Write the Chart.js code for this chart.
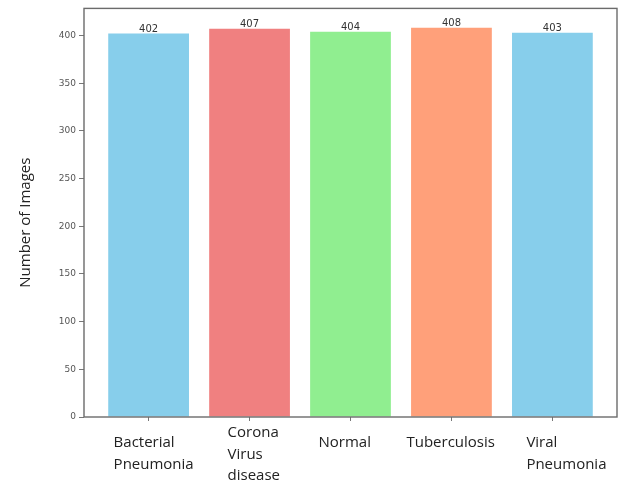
<!DOCTYPE html>
<html>
<head>
<meta charset="utf-8">
<script src="https://cdn.jsdelivr.net/npm/chart.js@4/dist/chart.umd.min.js"></script>
<style>
  html, body { margin: 0; padding: 0; background: #ffffff; }
  canvas { display: block; }
</style>
</head>
<body>
<canvas id="c" width="622" height="483"></canvas>
<script>
// Image counts per class
const categories = ['Bacterial Pneumonia', 'Corona Virus disease', 'Normal', 'Tuberculosis', 'Viral Pneumonia'];
const categoryLines = [['Bacterial', 'Pneumonia'], ['Corona', 'Virus', 'disease'], ['Normal'], ['Tuberculosis'], ['Viral', 'Pneumonia']];
const imageCounts = [402, 407, 404, 408, 403];
const barColors = ['#87CEEB', '#F08080', '#90EE90', '#FFA07A', '#87CEEB'];
const yTickStep = 50;
const yMax = 428.4;

// Category label placement relative to each tick (px)
const labelShiftX = [-35, -22, -32, -45, -26];
const labelShiftY = [0, -10, 0, 0, 0];

const labelFont = '15px "Open Sans", "Noto Sans", sans-serif';

const framePlugin = {
  id: 'frame',
  afterDatasetsDraw(chart) {
    const { ctx, chartArea: a } = chart;
    ctx.save();
    ctx.strokeStyle = '#6b6b6b';
    ctx.lineWidth = 1.4;
    ctx.strokeRect(a.left, a.top, a.right - a.left, a.bottom - a.top);
    ctx.restore();
  }
};

const valuePlugin = {
  id: 'values',
  afterDatasetsDraw(chart) {
    const { ctx } = chart;
    const meta = chart.getDatasetMeta(0);
    ctx.save();
    ctx.font = '10px "DejaVu Sans", sans-serif';
    ctx.fillStyle = '#333333';
    ctx.textAlign = 'center';
    ctx.textBaseline = 'bottom';
    meta.data.forEach((bar, i) => {
      ctx.fillText(String(imageCounts[i]), bar.x, bar.y + 1);
    });
    ctx.restore();
  }
};

const categoryLabelPlugin = {
  id: 'categoryLabels',
  afterDraw(chart) {
    const { ctx, chartArea: a } = chart;
    const xs = chart.scales.x;
    ctx.save();
    ctx.font = labelFont;
    ctx.fillStyle = '#222222';
    ctx.textAlign = 'left';
    ctx.textBaseline = 'middle';
    categoryLines.forEach((lines, i) => {
      const x0 = xs.getPixelForValue(i) + labelShiftX[i];
      const y0 = a.bottom + 26 + labelShiftY[i];
      lines.forEach((t, k) => ctx.fillText(t, x0, y0 + k * 21.5));
    });
    // y-axis title
    ctx.translate(26, (a.top + a.bottom) / 2 + 10);
    ctx.rotate(-Math.PI / 2);
    ctx.textAlign = 'center';
    ctx.fillText('Number of Images', 0, 0);
    ctx.restore();
  }
};

new Chart(document.getElementById('c'), {
  type: 'bar',
  data: {
    datasets: [{
      data: imageCounts.map((v, i) => ({ x: i, y: v })),
      backgroundColor: barColors,
      borderWidth: 0,
      barPercentage: 0.8,
      categoryPercentage: 1.0
    }]
  },
  options: {
    responsive: false,
    animation: false,
    layout: { padding: { top: 7, right: 5, left: 0, bottom: 0 } },
    plugins: { legend: { display: false }, tooltip: { enabled: false } },
    scales: {
      x: {
        type: 'linear',
        offset: false,
        min: -0.64,
        max: categories.length - 1 + 0.64,
        afterBuildTicks: (s) => { s.ticks = categories.map((_, i) => ({ value: i })); },
        afterFit: (s) => { s.height = 66; },
        ticks: { display: false },
        grid: { offset: false, drawOnChartArea: false, drawTicks: true, tickLength: 4, color: '#777777', lineWidth: 1 },
        border: { display: false }
      },
      y: {
        min: 0,
        max: yMax,
        afterFit: (s) => { s.width = 84; },
        ticks: {
          stepSize: yTickStep,
          includeBounds: false,
          padding: 3,
          color: '#555555',
          font: { family: '"DejaVu Sans", sans-serif', size: 9 }
        },
        grid: { drawOnChartArea: false, drawTicks: true, tickLength: 5, color: '#777777', lineWidth: 1 },
        border: { display: false }
      }
    }
  },
  plugins: [framePlugin, valuePlugin, categoryLabelPlugin]
});
</script>
</body>
</html>
